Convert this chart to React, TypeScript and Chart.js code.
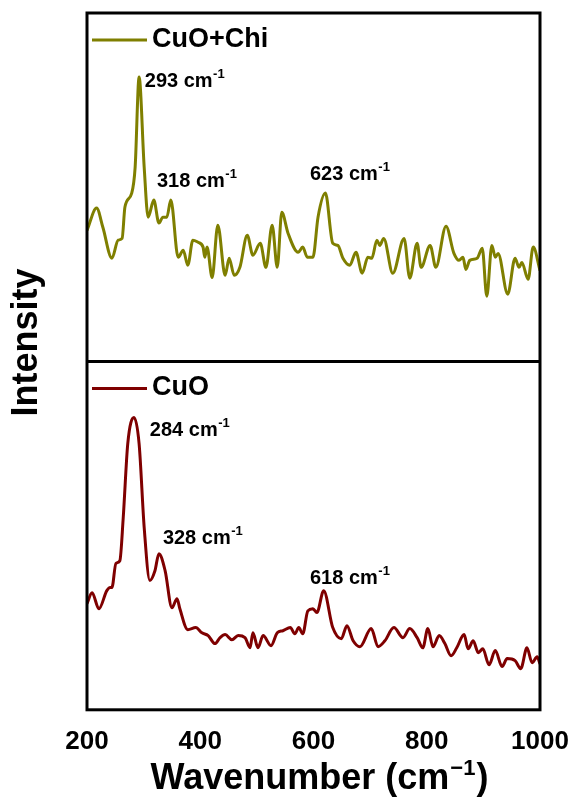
import React, { useEffect, useRef } from 'react';
import { Chart, registerables } from 'chart.js';

Chart.register(...registerables);

const FONT = "'Liberation Sans', Arial, sans-serif";

const xTicks = [200, 400, 600, 800, 1000];
const seriesNames = ['CuO+Chi', 'CuO'];
const seriesColors = ['#7f7f00', '#7f0000'];

// CuO + Chitosan Raman spectrum (arbitrary intensity units)
const chiWave = [200, 217, 228, 244, 255, 262, 267, 279, 285, 292, 301, 308, 318, 327, 334, 341, 348, 361, 370, 378, 387, 396, 405, 408, 412, 421, 431, 444, 451, 460, 470, 483, 493, 506, 516, 527, 536, 544, 555, 573, 581, 589, 599, 608, 621, 634, 643, 652, 664, 675, 686, 696, 703, 712, 717, 724, 740, 760, 770, 783, 790, 806, 816, 834, 848, 857, 864, 869, 876, 889, 898, 906, 915, 921, 926, 943, 956, 963, 968, 979, 988, 1000];
const chiInt = [37.6, 44.0, 38.5, 29.6, 34.8, 35.3, 44.3, 48.3, 55.7, 81.6, 55.7, 41.4, 46.3, 39.7, 41.4, 41.4, 46.3, 29.9, 31.9, 27.6, 34.8, 34.2, 32.8, 29.9, 32.8, 24.1, 39.1, 24.7, 29.6, 24.7, 27.0, 36.2, 30.5, 33.9, 27.0, 39.1, 27.0, 42.8, 36.8, 31.3, 32.8, 29.9, 29.9, 41.4, 48.3, 33.9, 33.3, 29.6, 27.6, 31.3, 25.3, 29.9, 29.6, 34.8, 33.3, 35.3, 25.3, 35.3, 23.9, 33.9, 27.0, 33.3, 27.0, 38.8, 31.0, 29.0, 29.9, 26.4, 29.0, 29.6, 32.5, 18.7, 33.3, 29.9, 31.0, 19.3, 29.6, 27.0, 28.4, 23.6, 32.8, 26.1];

// CuO Raman spectrum (arbitrary intensity units)
const cuoWave = [200, 209, 221, 235, 241, 244, 251, 258, 264, 272, 283, 292, 301, 311, 320, 327, 338, 350, 359, 364, 378, 392, 403, 414, 426, 435, 444, 456, 467, 479, 488, 493, 502, 511, 525, 536, 546, 559, 567, 574, 581, 590, 599, 606, 618, 634, 649, 659, 670, 682, 702, 714, 726, 742, 758, 770, 783, 793, 802, 811, 822, 832, 843, 853, 866, 873, 882, 891, 899, 910, 921, 933, 942, 956, 966, 977, 986, 995, 1000];
const cuoInt = [30.5, 33.6, 29.0, 34.2, 35.1, 35.1, 42.0, 42.8, 55.2, 76.4, 83.9, 76.4, 52.3, 37.1, 39.9, 44.8, 39.9, 29.3, 31.9, 29.0, 23.0, 23.6, 22.1, 21.3, 19.0, 20.7, 21.6, 20.1, 21.3, 20.7, 17.8, 22.1, 17.8, 21.3, 18.4, 22.1, 22.7, 23.6, 21.8, 23.6, 21.8, 28.4, 29.0, 27.9, 34.2, 23.6, 20.4, 24.1, 19.8, 18.1, 23.3, 18.1, 19.8, 23.6, 20.7, 23.3, 20.7, 17.8, 23.3, 18.1, 21.3, 19.0, 15.5, 17.8, 21.6, 17.5, 19.8, 16.4, 17.5, 12.9, 17.0, 12.4, 14.7, 14.1, 11.8, 17.8, 13.5, 15.2, 13.2];

const chiPeaks = ['293', '318', '623'];
const cuoPeaks = ['284', '328', '618'];

// label anchor placement (left / baseline in data space of each panel)
const chiPeakPos = [[302, 78.7], [323.6, 50.0], [593.8, 52.0]];
const cuoPeakPos = [[311, 78.7], [334, 47.7], [593.8, 36.2]];

function drawPeakLabel(ctx: CanvasRenderingContext2D, text: string, x: number, y: number) {
  ctx.font = `bold 20px ${FONT}`;
  ctx.textAlign = 'left';
  ctx.textBaseline = 'alphabetic';
  const main = text + ' cm';
  ctx.fillText(main, x, y);
  const w = ctx.measureText(main).width;
  ctx.font = `bold 13px ${FONT}`;
  ctx.fillText('-1', x + w + 0.5, y - 9);
}

const decorPlugin = {
  id: 'decor',
  afterDraw(chart: any) {
    const ctx: CanvasRenderingContext2D = chart.ctx;
    const { left, right, top, bottom } = chart.chartArea;
    const x = chart.scales.x;
    const yTop = chart.scales.yTop;
    const yBot = chart.scales.yBot;
    ctx.save();
    ctx.fillStyle = '#000';
    ctx.strokeStyle = '#000';

    // frame + divider
    ctx.lineWidth = 3;
    ctx.strokeRect(left, top, right - left, bottom - top);
    const mid = yTop.bottom;
    ctx.beginPath();
    ctx.moveTo(left, mid);
    ctx.lineTo(right, mid);
    ctx.stroke();

    // legends
    const panels = [yTop.top, yBot.top];
    panels.forEach((pt, i) => {
      ctx.strokeStyle = seriesColors[i];
      ctx.lineWidth = 3;
      ctx.beginPath();
      ctx.moveTo(left + 5, pt + 27);
      ctx.lineTo(left + 60, pt + 27);
      ctx.stroke();
      ctx.fillStyle = '#000';
      ctx.font = `bold 27px ${FONT}`;
      ctx.textAlign = 'left';
      ctx.textBaseline = 'alphabetic';
      ctx.fillText(seriesNames[i], left + 65, pt + 34);
    });

    // peak labels
    ctx.fillStyle = '#000';
    chiPeaks.forEach((p, i) => {
      drawPeakLabel(ctx, p, x.getPixelForValue(chiPeakPos[i][0]), yTop.getPixelForValue(chiPeakPos[i][1]));
    });
    cuoPeaks.forEach((p, i) => {
      drawPeakLabel(ctx, p, x.getPixelForValue(cuoPeakPos[i][0]), yBot.getPixelForValue(cuoPeakPos[i][1]));
    });

    // y title
    ctx.save();
    ctx.translate(37, (top + bottom) / 2 - 19);
    ctx.rotate(-Math.PI / 2);
    ctx.font = `bold 36px ${FONT}`;
    ctx.textAlign = 'center';
    ctx.textBaseline = 'alphabetic';
    ctx.fillText('Intensity', 0, 0);
    ctx.restore();

    // x title with superscript
    const base = bottom + 79;
    ctx.font = `bold 36px ${FONT}`;
    const p1 = 'Wavenumber (cm';
    const w1 = ctx.measureText(p1).width;
    ctx.font = `bold 22px ${FONT}`;
    const sup = '\u22121';
    const w2 = ctx.measureText(sup).width;
    ctx.font = `bold 36px ${FONT}`;
    const w3 = ctx.measureText(')').width;
    const total = w1 + w2 + w3 + 2;
    let sx = (left + right) / 2 + 6 - total / 2;
    ctx.textAlign = 'left';
    ctx.fillText(p1, sx, base);
    sx += w1 + 1;
    ctx.font = `bold 22px ${FONT}`;
    ctx.fillText(sup, sx, base - 14);
    sx += w2 + 1;
    ctx.font = `bold 36px ${FONT}`;
    ctx.fillText(')', sx, base);

    ctx.restore();
  },
};

export default function App() {
  const canvasRef = useRef<HTMLCanvasElement | null>(null);

  useEffect(() => {
    const canvas = canvasRef.current;
    if (!canvas) return;
    const chart = new Chart(canvas, {
      type: 'line',
      data: {
        datasets: [
          {
            label: seriesNames[0],
            data: chiWave.map((w, i) => ({ x: w, y: chiInt[i] })),
            yAxisID: 'yTop',
            borderColor: seriesColors[0],
            borderWidth: 3,
            pointRadius: 0,
            cubicInterpolationMode: 'monotone',
            fill: false,
          },
          {
            label: seriesNames[1],
            data: cuoWave.map((w, i) => ({ x: w, y: cuoInt[i] })),
            yAxisID: 'yBot',
            borderColor: seriesColors[1],
            borderWidth: 3,
            pointRadius: 0,
            cubicInterpolationMode: 'monotone',
            fill: false,
          },
        ],
      },
      options: {
        animation: false,
        responsive: false,
        maintainAspectRatio: false,
        layout: { padding: { top: 13, left: 87, right: 35, bottom: 34 } },
        plugins: { legend: { display: false }, tooltip: { enabled: false } },
        scales: {
          x: {
            type: 'linear',
            min: 200,
            max: 1000,
            afterBuildTicks: (scale: any) => {
              scale.ticks = xTicks.map((v) => ({ value: v }));
            },
            ticks: {
              font: { family: FONT, size: 26, weight: 'bold' },
              color: '#000',
              padding: 6,
              maxRotation: 0,
              autoSkip: false,
              callback: (v: any) => String(v),
            },
            grid: { display: false, drawTicks: true, tickLength: 10 },
            border: { display: false },
          },
          yBot: {
            type: 'linear',
            position: 'left',
            stack: 'panels',
            stackWeight: 1,
            min: 0,
            max: 100,
            display: false,
          },
          yTop: {
            type: 'linear',
            position: 'left',
            stack: 'panels',
            stackWeight: 1,
            min: 0,
            max: 100,
            display: false,
          },
        },
      },
      plugins: [decorPlugin],
    } as any);
    return () => chart.destroy();
  }, []);

  return (
    <div style={{ position: 'fixed', left: 0, top: 0, width: 575, height: 797, background: '#fff' }}>
      <canvas ref={canvasRef} width={575} height={797} style={{ display: 'block' }} />
    </div>
  );
}
